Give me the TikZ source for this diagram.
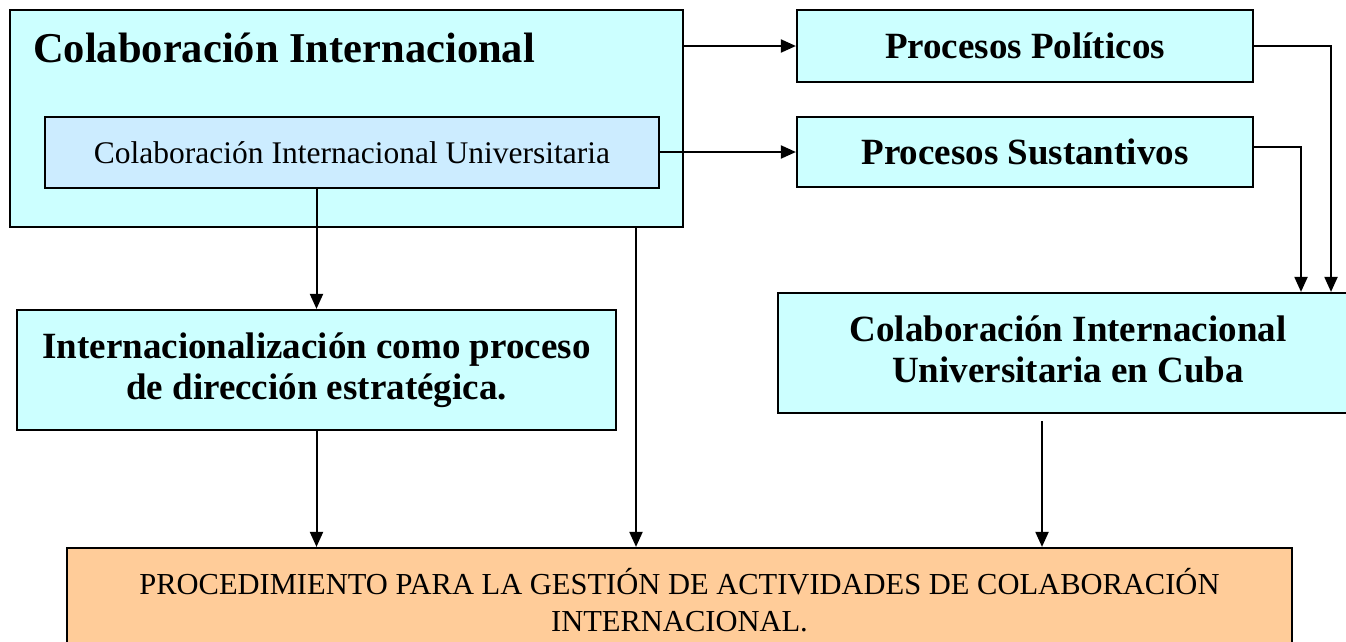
\documentclass[tikz,border=0pt]{standalone}
\usepackage{fontspec}
\setmainfont{Liberation Serif}
\usetikzlibrary{arrows.meta}
\definecolor{lcyan}{HTML}{CCFFFF}
\definecolor{lblue}{HTML}{CCECFF}
\definecolor{lorange}{HTML}{FFCC99}
\tikzset{
  boxc/.style={draw=black, line width=2.2pt, fill=lcyan, rectangle, inner sep=0pt},
  boxb/.style={draw=black, line width=1.8pt, fill=lblue, rectangle, inner sep=0pt},
  boxo/.style={draw=black, line width=2.2pt, fill=lorange, rectangle, inner sep=0pt},
  bigbold/.style={font=\fontsize{37}{41}\selectfont\bfseries, align=center},
  plain/.style={font=\fontsize{31.5}{37}\selectfont, align=center},
  arr/.style={line width=2pt, -{Triangle[length=15pt,width=13pt]}},
  ln/.style={line width=2pt}
}
\begin{document}
\begin{tikzpicture}[x=1pt,y=-1pt]
\useasboundingbox (0,0) rectangle (1346,641);
\clip (0,0) rectangle (1346,641);
\fill[white] (0,0) rectangle (1346,641);
% boxes
\node[boxc, minimum width=673pt, minimum height=217pt] (A) at (346.5,118.5) {};
\node[anchor=base west, inner sep=0pt, font=\fontsize{42.5}{48}\selectfont\bfseries] (At) at (33,62) {Colaboración Internacional};
\node[boxb, minimum width=614pt, minimum height=71pt, plain] (B) at (352,152.5) {Colaboración Internacional Universitaria};
\node[boxc, minimum width=456pt, minimum height=72pt, bigbold] (C) at (1025,46) {Procesos Políticos};
\node[boxc, minimum width=456pt, minimum height=70pt, bigbold] (D) at (1025,152) {Procesos Sustantivos};
\node[boxc, minimum width=599pt, minimum height=120pt, bigbold] (E) at (316.5,370) {Internacionalización como proceso\\de dirección estratégica.};
\node[boxc, minimum width=580pt, minimum height=120pt] (F) at (1068,353) {};
\node[bigbold, inner sep=0pt] (Ft) at (1068,349) {Colaboración Internacional\\Universitaria en Cuba};
\node[boxo, minimum width=1225pt, minimum height=104pt, plain, font=\fontsize{30.5}{37}\selectfont] (G) at (679.5,600) {PROCEDIMIENTO PARA LA GESTIÓN DE ACTIVIDADES DE COLABORACIÓN\\INTERNACIONAL.};
% connectors
\draw[arr] (A.east |- C.west) -- (C.west);
\draw[arr] (B.east |- D.west) -- (D.west);
\draw[arr] (B.south -| E.north) -- (E.north);
\draw[arr] (A.south -| 636,0) -- (G.north -| 636,0);
\draw[arr] (C.east) -| (F.north -| 1331,0);
\draw[arr] ([yshift=5pt]D.east) -| (F.north -| 1301,0);
\draw[arr] (E.south) -- (G.north -| E.south);
\draw[arr] ([yshift=-7pt]F.south -| 1042,0) -- (G.north -| 1042,0);
\end{tikzpicture}
\end{document}
